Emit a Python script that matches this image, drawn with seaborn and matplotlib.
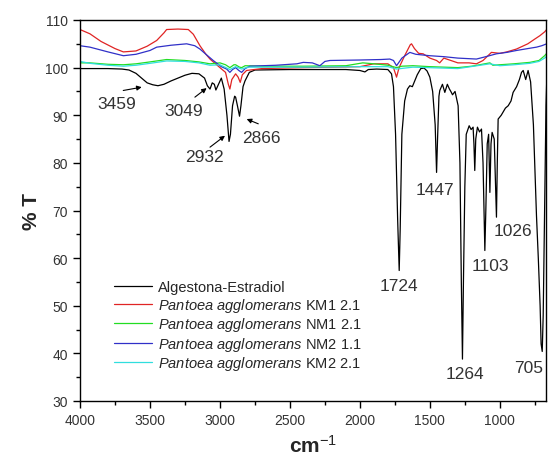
import numpy as np
import pandas as pd
import matplotlib
matplotlib.use("Agg")
import matplotlib.pyplot as plt
import seaborn as sns

# FTIR spectra (wavenumber cm-1, %T)
wn_ae = [4000, 3800, 3700, 3650, 3600, 3560, 3520, 3480, 3443, 3400, 3350, 3300, 3250, 3200,
         3150, 3110, 3090, 3071, 3055, 3040, 3029, 3010, 2990, 2970, 2950, 2935, 2925, 2910,
         2895, 2888, 2875, 2860, 2850, 2835, 2821, 2790, 2750, 2500, 2100, 2000, 1964, 1940,
         1880, 1800, 1774, 1760, 1745, 1730, 1719, 1712, 1700, 1680, 1660, 1643, 1625, 1607,
         1590, 1565, 1541, 1520, 1500, 1480, 1462, 1452, 1445, 1435, 1429, 1410, 1393, 1375,
         1360, 1350, 1338, 1320, 1305, 1298, 1285, 1275, 1267, 1260, 1250, 1240, 1219, 1205,
         1191, 1185, 1179, 1172, 1160, 1145, 1131, 1120, 1110, 1107, 1100, 1090, 1080, 1071,
         1063, 1055, 1040, 1030, 1024, 1018, 1012, 990, 960, 940, 920, 905, 880, 860, 845,
         833, 815, 798, 780, 760, 745, 738, 725, 712, 705, 697, 690, 680, 670, 665]
t_ae = [99.8, 99.8, 99.7, 99.5, 98.8, 97.8, 96.8, 96.4, 96.2, 96.5, 97.2, 97.8, 98.4, 98.8,
        98.7, 97.8, 96.2, 95.5, 96.8, 96.5, 95.3, 96.5, 97.8, 95.5, 90.0, 84.5, 86.0, 92.0,
        94.0, 93.8, 92.0, 89.8, 92.0, 96.0, 97.2, 99.0, 99.5, 99.6, 99.6, 99.4, 99.1, 99.6,
        99.7, 99.6, 98.7, 96.0, 86.0, 68.0, 57.4, 66.0, 86.0, 93.0, 95.5, 96.2, 96.0, 97.3,
        98.5, 99.8, 99.9, 99.3, 98.0, 95.0, 88.0, 78.0, 85.0, 94.0, 95.2, 96.5, 94.8, 96.5,
        95.5, 95.0, 94.3, 95.0, 93.0, 92.0, 80.0, 55.0, 38.8, 55.0, 75.0, 86.0, 87.8, 87.0,
        87.5, 84.0, 78.4, 85.0, 87.5, 86.5, 87.1, 80.0, 65.0, 61.6, 70.0, 84.0, 86.0, 73.8,
        84.0, 86.4, 85.0, 75.0, 68.6, 80.0, 89.2, 90.0, 91.5, 92.0, 93.0, 94.8, 96.0, 97.5, 99.0,
        99.4, 97.5, 99.4, 97.0, 88.0, 75.0, 68.9, 60.0, 50.0, 42.0, 40.4, 48.0, 70.0, 92.0, 97.0]

wn_km1 = [4000, 3929, 3850, 3750, 3690, 3600, 3520, 3452, 3400, 3381, 3300, 3226, 3190, 3143,
          3100, 3071, 3000, 2960, 2940, 2929, 2915, 2888, 2870, 2855, 2840, 2810, 2700, 2400,
          2000, 1900, 1800, 1760, 1738, 1720, 1680, 1640, 1631, 1610, 1580, 1548, 1500, 1452,
          1430, 1400, 1350, 1300, 1262, 1220, 1167, 1120, 1060, 1000, 950, 881, 800, 750, 714,
          680, 665]
t_km1 = [108.0, 107.1, 105.5, 104.0, 103.3, 103.5, 104.5, 105.7, 107.3, 108.0, 108.1, 108.0,
         107.0, 104.6, 102.8, 101.8, 100.0, 99.0, 96.5, 95.5, 97.5, 98.7, 98.0, 96.9, 98.5,
         99.4, 99.8, 100.0, 100.2, 100.8, 100.8, 100.0, 98.0, 100.0, 102.5, 104.8, 105.0,
         104.0, 103.0, 102.9, 102.0, 101.5, 101.0, 102.0, 101.5, 101.0, 101.0, 101.0, 100.8,
         101.5, 103.2, 103.0, 103.3, 103.9, 105.0, 106.0, 106.7, 107.5, 108.0]

wn_nm1 = [4000, 3929, 3800, 3690, 3600, 3500, 3381, 3250, 3150, 3071, 3000, 2960, 2929, 2900,
          2888, 2860, 2845, 2820, 2700, 2400, 2100, 1979, 1900, 1800, 1738, 1700, 1621, 1500,
          1400, 1300, 1200, 1071, 1050, 1000, 900, 786, 720, 680, 665]
t_nm1 = [101.0, 101.0, 100.7, 100.6, 100.8, 101.2, 101.7, 101.5, 101.2, 100.8, 101.0, 100.6,
         100.0, 100.6, 100.6, 100.1, 100.0, 100.4, 100.3, 100.3, 100.4, 101.0, 100.8, 100.5,
         100.0, 100.3, 100.4, 100.2, 100.1, 100.0, 100.3, 101.0, 100.5, 100.6, 100.8, 101.1,
         101.5, 102.5, 103.0]

wn_nm2 = [4000, 3929, 3800, 3690, 3600, 3500, 3452, 3350, 3238, 3180, 3143, 3100, 3048, 2990,
          2952, 2929, 2910, 2888, 2865, 2845, 2820, 2786, 2600, 2450, 2405, 2340, 2286, 2250,
          2214, 2000, 1850, 1786, 1760, 1738, 1700, 1643, 1600, 1500, 1400, 1300, 1167, 1100,
          1024, 950, 881, 800, 738, 700, 665]
t_nm2 = [104.6, 104.3, 103.3, 102.5, 102.8, 103.6, 104.3, 104.7, 105.0, 104.6, 103.9, 102.8,
         101.5, 100.2, 99.7, 99.0, 99.6, 100.0, 99.4, 99.0, 99.8, 100.3, 100.5, 100.8, 101.1,
         101.0, 100.4, 101.3, 101.5, 101.6, 101.7, 101.8, 101.5, 100.4, 102.0, 103.2, 102.8,
         102.5, 102.3, 102.0, 101.8, 102.3, 102.9, 103.2, 103.6, 104.0, 104.3, 104.6, 105.0]

wn_km2 = [4000, 3929, 3800, 3690, 3600, 3500, 3381, 3250, 3150, 3071, 3000, 2929, 2888, 2845,
          2800, 2400, 2000, 1800, 1738, 1621, 1400, 1300, 1071, 1000, 900, 786, 720, 680, 665]
t_km2 = [101.3, 100.9, 100.5, 100.3, 100.5, 100.9, 101.4, 101.3, 101.0, 100.5, 100.6, 99.6,
         100.2, 99.7, 100.1, 100.1, 100.2, 100.2, 99.7, 100.1, 99.9, 99.8, 100.8, 100.4, 100.6,
         100.9, 101.3, 102.0, 102.4]

labels = ["Algestona-Estradiol",
          r"$\it{Pantoea\ agglomerans}$ KM1 2.1",
          r"$\it{Pantoea\ agglomerans}$ NM1 2.1",
          r"$\it{Pantoea\ agglomerans}$ NM2 1.1",
          r"$\it{Pantoea\ agglomerans}$ KM2 2.1"]
colors = ["#000000", "#e02424", "#22dd22", "#3030c8", "#30dede"]

# peak labels: (text, x, y) and arrows (tail -> head)
peak_text = [("3459", 3738, 92.4), ("3049", 3262, 91.0), ("2932", 3114, 81.4),
             ("2866", 2702, 85.4), ("1447", 1464, 74.5), ("1724", 1719, 54.2),
             ("1264", 1250, 35.7), ("1103", 1071, 58.4), ("1026", 905, 65.8),
             ("705", 793, 37.1)]
arrows = [((3691, 95.2), (3559, 95.9)), ((3179, 93.8), (3095, 95.7)),
          ((3071, 83.3), (2964, 85.7)), ((2726, 88.2), (2809, 89.2))]

sns.set_style("ticks")
plt.rcParams['font.family'] = ['Liberation Sans', 'DejaVu Sans']
plt.rcParams['mathtext.fontset'] = 'custom'
plt.rcParams['mathtext.rm'] = 'Liberation Sans'
plt.rcParams['mathtext.it'] = 'Liberation Sans:italic'
plt.rcParams['mathtext.bf'] = 'Liberation Sans:bold'

fig = plt.figure(figsize=(5.49, 4.60), dpi=100)
ax = fig.add_axes([80 / 549, 1 - 402 / 460, 466 / 549, 381 / 460])

series = [(wn_ae, t_ae), (wn_km1, t_km1), (wn_nm1, t_nm1), (wn_nm2, t_nm2), (wn_km2, t_km2)]
for (x, y), lab, c in zip(series, labels, colors):
    df = pd.DataFrame({"wn": x, "T": y})
    sns.lineplot(data=df, x="wn", y="T", sort=False, estimator=None, color=c,
                 linewidth=0.9, label=lab, ax=ax)

ax.set_xlim(4000, 670)
ax.set_ylim(30, 110)
ax.set_xticks([4000, 3500, 3000, 2500, 2000, 1500, 1000])
ax.set_xticks(np.arange(3750, 600, -500), minor=True)
ax.set_yticks(np.arange(30, 111, 10))
ax.set_yticks(np.arange(35, 110, 10), minor=True)
ax.tick_params(which='major', direction='out', length=5, width=1, labelsize=10,
               labelcolor='#333333', color='black')
ax.tick_params(which='minor', direction='out', length=3, width=1, color='black')
for s in ax.spines.values():
    s.set_visible(True)
    s.set_linewidth(1)
    s.set_color('black')

ax.set_xlabel(r"cm$^{-1}$", fontsize=15, fontweight='bold', labelpad=5)
ax.set_ylabel("% T", fontsize=15, fontweight='bold', labelpad=3)

for t, x, y in peak_text:
    ax.text(x, y, t, ha='center', va='center', fontsize=12.5, color='#333333')
for tail, head in arrows:
    ax.annotate("", xy=head, xytext=tail,
                arrowprops=dict(arrowstyle='-|>', color='black', lw=0.8,
                                mutation_scale=7, shrinkA=0, shrinkB=0))

ax.legend(loc='lower left', bbox_to_anchor=(0.06, 0.06), frameon=False, fontsize=10.5,
          handlelength=2.6, handletextpad=0.4, labelspacing=0.1, borderaxespad=0)

fig.savefig("out.png", dpi=100)
